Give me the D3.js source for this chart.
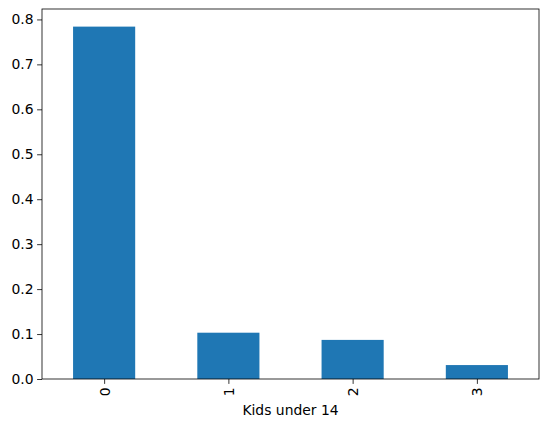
<!DOCTYPE html>
<html>
<head>
<meta charset="utf-8">
<script src="https://cdn.jsdelivr.net/npm/d3@7"></script>
<style>
  body { margin: 0; background: #fff; }
  svg text { font-family: "DejaVu Sans", sans-serif; fill: #000; }
</style>
</head>
<body>
<div id="chart"></div>
<script>
// data
const categories = ['0', '1', '2', '3'];
const shares = [0.784, 0.103, 0.087, 0.031];
const yTicks = [0.0, 0.1, 0.2, 0.3, 0.4, 0.5, 0.6, 0.7, 0.8];

const W = 547, H = 427;
const margin = { top: 9, right: 8, bottom: 48, left: 42 };
const width = W - margin.left - margin.right;
const height = H - margin.top - margin.bottom;

const svg = d3.select('#chart')
  .append('svg')
  .attr('width', W)
  .attr('height', H);

const g = svg.append('g')
  .attr('transform', `translate(${margin.left},${margin.top})`);

// x: each category sits at integer position, bars half a unit wide
const x = d3.scaleLinear()
  .domain([-0.5, categories.length - 0.5])
  .range([0, width]);

const y = d3.scaleLinear()
  .domain([0, d3.max(shares) * 1.05])
  .range([height, 0]);

// bars
g.selectAll('rect.bar')
  .data(shares)
  .enter()
  .append('rect')
  .attr('class', 'bar')
  .attr('x', (d, i) => x(i - 0.25))
  .attr('width', x(0.25) - x(-0.25))
  .attr('y', d => y(d))
  .attr('height', d => y(0) - y(d))
  .attr('fill', '#1f77b4');

// y axis
const yAxis = g.append('g')
  .call(d3.axisLeft(y).tickValues(yTicks).tickFormat(d3.format('.1f')).tickSize(4.9).tickPadding(3.5));
yAxis.select('.domain').remove();
yAxis.selectAll('line').attr('stroke', '#000').attr('stroke-width', 0.8);
yAxis.selectAll('text').style('font-size', '13.9px');

// x axis, labels rotated like the pandas default
const xAxis = g.append('g')
  .attr('transform', `translate(0,${height})`)
  .call(d3.axisBottom(x).tickValues(d3.range(categories.length)).tickFormat(i => categories[i]).tickSize(4.9));
xAxis.select('.domain').remove();
xAxis.selectAll('line').attr('stroke', '#000').attr('stroke-width', 0.8);
xAxis.selectAll('text')
  .style('font-size', '13.9px')
  .attr('text-anchor', 'end')
  .attr('dominant-baseline', 'central')
  .attr('x', 0)
  .attr('y', 0)
  .attr('dy', null)
  .attr('transform', 'translate(0,8.4) rotate(-90)');

// frame
g.append('rect')
  .attr('width', width)
  .attr('height', height)
  .attr('fill', 'none')
  .attr('stroke', '#000')
  .attr('stroke-width', 0.8);

// x label
g.append('text')
  .attr('x', width / 2)
  .attr('y', height + 36)
  .attr('text-anchor', 'middle')
  .style('font-size', '13.9px')
  .text('Kids under 14');
</script>
</body>
</html>
